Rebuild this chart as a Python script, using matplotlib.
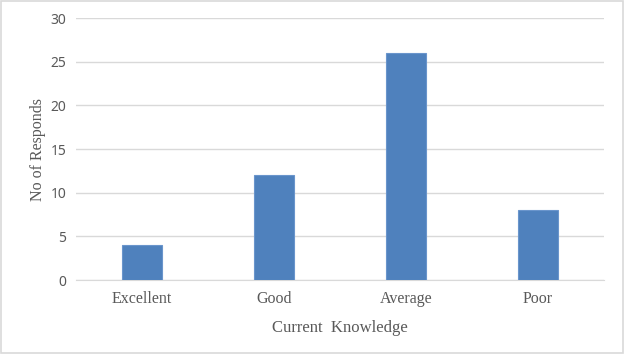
import matplotlib.pyplot as plt
import numpy as np

categories = ['Excellent', 'Good', 'Average', 'Poor']
responds = [4, 12, 26, 8]
yticks = [0, 5, 10, 15, 20, 25, 30]

plt.rcParams['font.family'] = ['Liberation Serif', 'DejaVu Serif']

fig = plt.figure(figsize=(6.25, 3.54), dpi=100)
ax = fig.add_axes([0.1216, 0.209, 0.8448, 0.74])

x = np.arange(len(categories))
ax.bar(x, responds, width=0.31, color='#4F81BD', edgecolor='#6A95CC', linewidth=0.8, zorder=3)

ax.set_xlim(-0.5, len(categories) - 0.5)
ax.set_ylim(0, 30)
ax.set_yticks(yticks)
ax.set_xticks(x)
ax.set_xticklabels(categories, fontsize=11.5)
ax.set_yticklabels([str(t) for t in yticks], family='Noto Sans', fontsize=10)
ax.grid(axis='y', color='#D9D9D9', linewidth=1, zorder=0)
for s in ['top', 'right', 'left']:
    ax.spines[s].set_visible(False)
ax.spines['bottom'].set_color('#D9D9D9')
ax.tick_params(length=0, colors='#595959')
ax.tick_params(axis='x', pad=8)
ax.tick_params(axis='y', pad=7)

ax.set_xlabel('Current  Knowledge', color='#595959', fontsize=12, labelpad=9)
ax.set_ylabel('No of Responds', color='#595959', fontsize=11.5, labelpad=3)

fig.patches.append(plt.Rectangle((0.002, 0.003), 0.995, 0.993, transform=fig.transFigure,
                                 fill=False, edgecolor='#D9D9D9', linewidth=1.2))

fig.savefig('out.png', dpi=100)
